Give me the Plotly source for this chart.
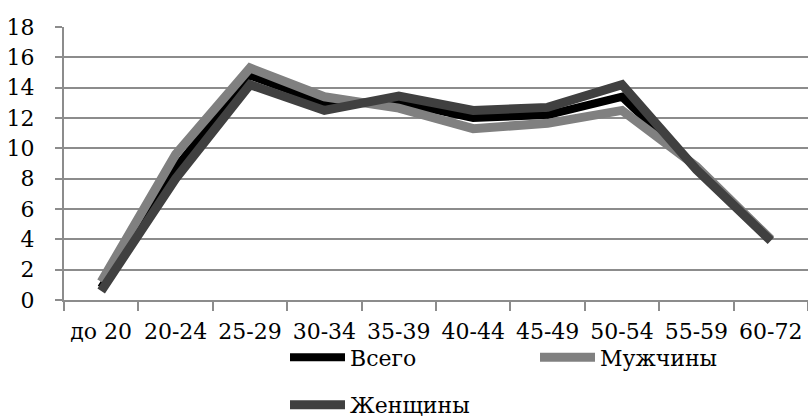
import plotly.graph_objects as go

categories = ["до 20", "20-24", "25-29", "30-34", "35-39", "40-44", "45-49", "50-54", "55-59", "60-72"]
vsego = [0.8, 8.7, 14.8, 13.0, 13.05, 12.0, 12.2, 13.4, 8.7, 4.0]
muzhchiny = [1.2, 9.6, 15.3, 13.4, 12.65, 11.3, 11.65, 12.5, 8.8, 4.0]
zhenshchiny = [0.6, 8.0, 14.2, 12.5, 13.45, 12.5, 12.7, 14.2, 8.6, 3.9]
y_ticks = [0, 2, 4, 6, 8, 10, 12, 14, 16, 18]

FONT = "DejaVu Serif"
FS = 22
fig = go.Figure()
fig.add_trace(go.Scatter(x=categories, y=vsego, name="Всего", mode="lines",
                         line=dict(color="#000000", width=8), legend="legend"))
fig.add_trace(go.Scatter(x=categories, y=muzhchiny, name="Мужчины", mode="lines",
                         line=dict(color="#808080", width=9), legend="legend"))
fig.add_trace(go.Scatter(x=categories, y=zhenshchiny, name="Женщины", mode="lines",
                         line=dict(color="#404040", width=9), legend="legend2"))

grid = "#8c8c8c"
LX = (285 - 64) / 744
fig.update_layout(
    width=808, height=417,
    margin=dict(l=64, r=0, t=27, b=117, autoexpand=False),
    paper_bgcolor="white", plot_bgcolor="white",
    font=dict(family=FONT, size=FS, color="black"),
    showlegend=True,
    legend=dict(orientation="h", x=LX, xanchor="left",
                y=-0.21, yanchor="middle", itemwidth=55, entrywidth=180,
                font=dict(family=FONT, size=FS), bgcolor="rgba(0,0,0,0)",
                tracegroupgap=0),
    legend2=dict(orientation="h", x=LX, xanchor="left",
                 y=-0.384, yanchor="middle", itemwidth=55,
                 font=dict(family=FONT, size=FS), bgcolor="rgba(0,0,0,0)"),
    xaxis=dict(type="category", categoryorder="array", categoryarray=categories,
               showgrid=False, showline=True, linecolor=grid, linewidth=2,
               ticks="outside", tickson="boundaries", ticklen=9, tickcolor=grid,
               tickwidth=2, tickfont=dict(family=FONT, size=FS), tickangle=0,
               ticklabelstandoff=11, range=[-0.5, 9.5], fixedrange=True,
               automargin=False),
    yaxis=dict(range=[0, 18], tickvals=y_ticks, showgrid=True, gridcolor=grid,
               gridwidth=2, showline=True, linecolor=grid, linewidth=2,
               ticks="outside", ticklen=7, tickcolor=grid, tickwidth=2,
               tickfont=dict(family=FONT, size=FS), ticklabelstandoff=16,
               zeroline=False, fixedrange=True, automargin=False),
)

fig.write_html("out.html", config={"displayModeBar": False},
               post_script="document.body.style.margin='0';")
